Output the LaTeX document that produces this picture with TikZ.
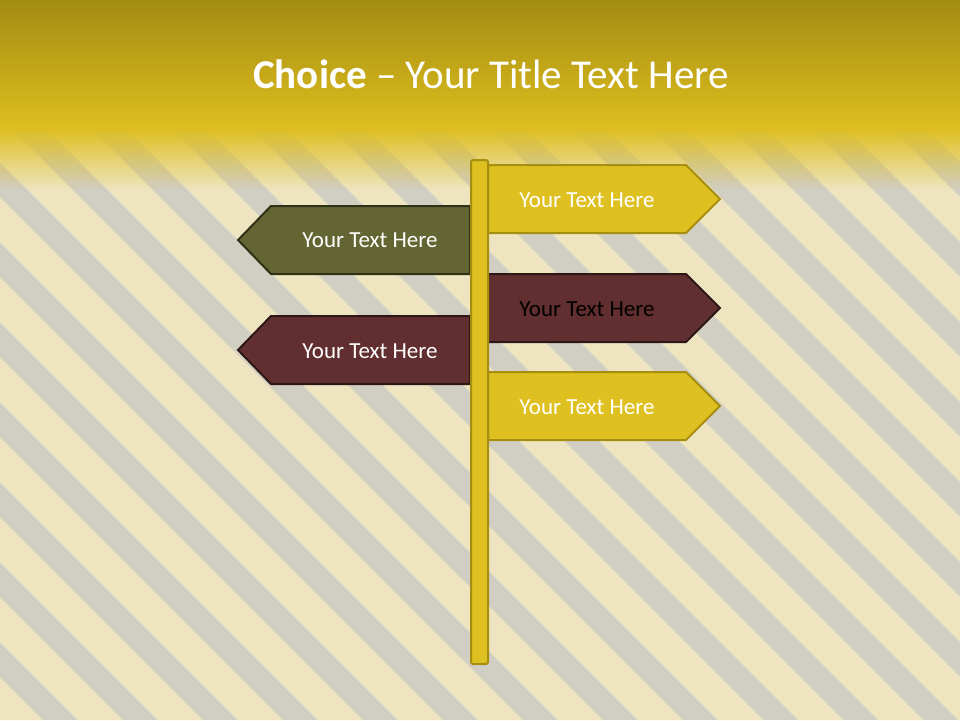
\documentclass[tikz,border=0pt]{standalone}
\usepackage{fontspec}
\setmainfont{Carlito}
\usetikzlibrary{fadings}
\definecolor{stripegrey}{RGB}{209,206,195}
\definecolor{stripecream}{RGB}{238,229,192}
\definecolor{headtop}{RGB}{158,136,18}
\definecolor{headyellow}{RGB}{222,190,30}
\definecolor{signyellow}{RGB}{222,192,32}
\definecolor{signyellowline}{RGB}{166,142,16}
\definecolor{signgreen}{RGB}{99,102,51}
\definecolor{signgreenline}{RGB}{48,48,22}
\definecolor{signred}{RGB}{98,47,48}
\definecolor{signredline}{RGB}{44,22,22}
\tikzset{
  signtext/.style={anchor=base, font=\fontsize{23}{27}\selectfont, text=white},
  yellowsign/.style={fill=signyellow, draw=signyellowline, line width=2pt},
  greensign/.style={fill=signgreen, draw=signgreenline, line width=2pt},
  redsign/.style={fill=signred, draw=signredline, line width=2pt}
}

\begin{document}
\begin{tikzpicture}[x=1pt, y=-1pt]
    \useasboundingbox (0,0) rectangle (960,720);
    \clip (0,0) rectangle (960,720);
    \fill[stripegrey] (0,0) rectangle (960,720);
    \foreach \s in {-722,-642,...,958}
      \fill[stripecream] (\s,0) -- ++(45,0) -- ++(720,720) -- ++(-45,0) -- cycle;
    \shade[top color=headtop, bottom color=headyellow] (-10,-10) rectangle (970,128);
    \fill[headyellow, path fading=south] (-20,127) rectangle (980,190);
    \node[anchor=base, text=white, font=\fontsize{41}{48}\selectfont] (title)
      at (491,88) {\textbf{Choice} -- Your Title Text Here};

    \draw[yellowsign] (488,165) -- (686,165) -- (720,199) -- (686,233) -- (488,233) -- cycle;
    \node[signtext] (signa) at (587,207) {Your Text Here};
    \draw[greensign] (470,206) -- (271,206) -- (238,240) -- (271,274) -- (470,274) -- cycle;
    \node[signtext] (signb) at (370,247) {Your Text Here};
    \draw[redsign] (488,274) -- (686,274) -- (720,308) -- (686,342) -- (488,342) -- cycle;
    \node[signtext, text=black] (signc) at (587,316) {Your Text Here};
    \draw[redsign] (470,316) -- (271,316) -- (238,350) -- (271,384) -- (470,384) -- cycle;
    \node[signtext] (signd) at (370,358) {Your Text Here};
    \draw[yellowsign] (488,372) -- (686,372) -- (720,406) -- (686,440) -- (488,440) -- cycle;
    \node[signtext] (signe) at (587,414) {Your Text Here};
    \draw[yellowsign, rounded corners=1.5pt] (471,160) rectangle (488,664);
\end{tikzpicture}
\end{document}
